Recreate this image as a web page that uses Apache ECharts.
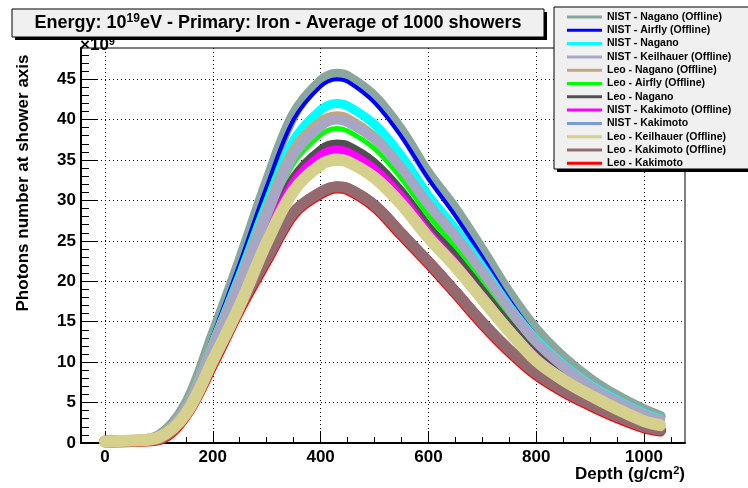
<!DOCTYPE html>
<html>
<head>
<meta charset="utf-8">
<script src="https://cdn.jsdelivr.net/npm/echarts@6/dist/echarts.min.js"></script>
<style>
  html, body { margin: 0; padding: 0; background: #fff; }
  #chart { width: 748px; height: 488px; }
</style>
</head>
<body>
<div id="chart"></div>
<script>
// depth in g/cm2, values in units of 10^9 photons
var depth = [0, 50, 100, 150, 200, 250, 300, 350, 400, 430, 450, 500, 550, 600, 650, 700, 750, 800, 850, 900, 950, 1000, 1030];

var nistNaganoOff    = [0.2, 0.3, 0.9, 4.8, 13.4, 22.5, 32.2, 40.6, 44.7, 45.6, 45.3, 42.8, 38.6, 33.3, 28.9, 23.8, 18.5, 14.0, 10.6, 7.9, 5.8, 4.1, 3.3];
var nistAirflyOff    = [0.2, 0.3, 0.9, 4.7, 13.2, 22.2, 31.7, 40.0, 44.1, 45.0, 44.7, 42.1, 37.9, 32.7, 28.1, 23.0, 17.7, 13.2, 9.8, 7.2, 5.2, 3.6, 2.9];
var nistNagano       = [0.2, 0.3, 0.8, 4.4, 12.3, 20.7, 29.6, 37.4, 41.2, 42.0, 41.7, 39.4, 35.5, 30.6, 26.5, 21.8, 16.9, 12.8, 9.7, 7.2, 5.3, 3.7, 3.0];
var nistKeilhauerOff = [0.2, 0.3, 0.8, 4.2, 11.7, 19.7, 28.2, 35.6, 39.2, 40.0, 39.7, 37.6, 34.0, 29.5, 25.6, 21.2, 16.6, 12.5, 9.5, 7.0, 5.1, 3.5, 2.8];
var leoNaganoOff     = [0.2, 0.3, 0.8, 4.3, 12.0, 20.1, 28.7, 36.2, 39.7, 40.4, 40.1, 37.8, 34.0, 29.3, 25.3, 20.8, 16.2, 12.2, 9.2, 6.9, 5.0, 3.5, 2.8];
var leoAirflyOff     = [0.2, 0.3, 0.8, 4.1, 11.4, 19.2, 27.5, 34.6, 38.1, 38.9, 38.6, 36.4, 32.7, 28.1, 24.2, 19.8, 15.4, 11.6, 8.8, 6.5, 4.7, 3.3, 2.6];
var leoNagano        = [0.2, 0.3, 0.7, 3.9, 10.9, 18.3, 26.2, 33.0, 36.4, 37.1, 36.9, 34.8, 31.3, 26.9, 23.2, 19.0, 14.8, 11.1, 8.4, 6.2, 4.5, 3.1, 2.5];
var nistKakimotoOff  = [0.2, 0.3, 0.7, 3.8, 10.7, 17.9, 25.6, 32.3, 35.6, 36.3, 36.0, 33.9, 30.5, 26.1, 22.3, 18.2, 14.1, 10.6, 8.0, 5.9, 4.3, 3.0, 2.4];
var nistKakimoto     = [0.2, 0.3, 0.7, 3.7, 10.4, 17.4, 24.9, 31.4, 34.6, 35.3, 35.0, 33.0, 29.7, 25.5, 21.9, 17.9, 13.9, 10.4, 7.9, 5.8, 4.2, 3.0, 2.4];
var leoKeilhauerOff  = [0.2, 0.3, 0.7, 3.6, 10.2, 17.0, 24.8, 31.2, 34.4, 35.0, 34.8, 32.8, 29.5, 25.4, 21.8, 17.8, 13.8, 10.2, 7.8, 5.9, 4.2, 2.7, 2.2];
var leoKakimotoOff   = [0.2, 0.25, 0.5, 3.6, 10.0, 16.8, 22.8, 28.5, 31.0, 31.7, 31.5, 29.4, 25.9, 22.4, 18.7, 14.9, 11.5, 8.6, 6.5, 4.8, 3.3, 2.0, 1.6];
var leoKakimoto      = [0.2, 0.25, 0.47, 3.5, 9.85, 16.65, 22.65, 28.4, 30.9, 31.6, 31.4, 29.3, 25.8, 22.3, 18.6, 14.8, 11.4, 8.5, 6.4, 4.7, 3.2, 1.95, 1.55];

var legendNames = ['NIST - Nagano (Offline)', 'NIST - Airfly (Offline)', 'NIST - Nagano', 'NIST - Keilhauer (Offline)',
  'Leo - Nagano (Offline)', 'Leo - Airfly (Offline)', 'Leo - Nagano', 'NIST - Kakimoto (Offline)',
  'NIST - Kakimoto', 'Leo - Keilhauer (Offline)', 'Leo - Kakimoto (Offline)', 'Leo - Kakimoto'];

var xTicks = [0, 200, 400, 600, 800, 1000];
var xMinorTicks = [50, 100, 150, 250, 300, 350, 450, 500, 550, 650, 700, 750, 850, 900, 950, 1050];
var yTicks = [0, 5, 10, 15, 20, 25, 30, 35, 40, 45];
var yMinorTicks = [1, 2, 3, 4, 6, 7, 8, 9, 11, 12, 13, 14, 16, 17, 18, 19, 21, 22, 23, 24, 26, 27, 28, 29,
  31, 32, 33, 34, 36, 37, 38, 39, 41, 42, 43, 44, 46, 47, 48];

var font = "'Liberation Sans', Arial, Helvetica, sans-serif";

// drawn bottom to top
var curves = [
  { name: 'Leo - Kakimoto', data: leoKakimoto, color: '#ff0000', width: 12 },
  { name: 'NIST - Nagano (Offline)', data: nistNaganoOff, color: '#8aa79d', width: 11 },
  { name: 'NIST - Airfly (Offline)', data: nistAirflyOff, color: '#0000ff', width: 4 },
  { name: 'NIST - Nagano', data: nistNagano, color: '#00ffff', width: 9 },
  { name: 'Leo - Nagano (Offline)', data: leoNaganoOff, color: '#c3a586', width: 10 },
  { name: 'Leo - Airfly (Offline)', data: leoAirflyOff, color: '#00ff00', width: 5 },
  { name: 'Leo - Nagano', data: leoNagano, color: '#505050', width: 7 },
  { name: 'NIST - Kakimoto (Offline)', data: nistKakimotoOff, color: '#ff00ff', width: 8 },
  { name: 'NIST - Keilhauer (Offline)', data: nistKeilhauerOff, color: '#a7a7c5', width: 10 },
  { name: 'NIST - Kakimoto', data: nistKakimoto, color: '#7b9bd6', width: 8 },
  { name: 'Leo - Kakimoto (Offline)', data: leoKakimotoOff, color: '#936a70', width: 11 },
  { name: 'Leo - Keilhauer (Offline)', data: leoKeilhauerOff, color: '#d5d08c', width: 12 }
];

var series = curves.map(function (c) {
  return {
    name: c.name,
    type: 'line',
    xAxisIndex: 0,
    yAxisIndex: 0,
    data: depth.map(function (d, i) { return [d, c.data[i]]; }),
    smooth: 0.35,
    showSymbol: false,
    color: c.color,
    lineStyle: { color: c.color, width: c.width, cap: 'round', join: 'round' },
    silent: true,
    animation: false,
    z: 3
  };
});

var myChart = echarts.init(document.getElementById('chart'), null, { renderer: 'canvas' });

myChart.setOption({
  animation: false,
  backgroundColor: '#ffffff',
  grid: { left: 81, top: 48, right: 63, bottom: 45, show: true, borderColor: '#000', borderWidth: 1 },
  xAxis: [
    {
      type: 'value', min: -44.5, max: 1076,
      axisLine: { show: true, onZero: false, lineStyle: { color: '#000', width: 2 } },
      axisTick: { show: true, inside: true, length: 12, customValues: xTicks, lineStyle: { color: '#000', width: 1 } },
      axisLabel: {
        customValues: xTicks, margin: 6, color: '#000', fontSize: 17, fontWeight: 'bold', fontFamily: font,
        formatter: function (v) { return String(v); }
      },
      splitLine: { show: true, lineStyle: { color: '#000', width: 1, type: [1, 3] } }
    },
    {
      type: 'value', min: -44.5, max: 1076, position: 'bottom',
      axisLine: { show: false, onZero: false },
      axisTick: { show: true, inside: true, length: 6, customValues: xMinorTicks, lineStyle: { color: '#000', width: 1 } },
      axisLabel: { show: false },
      splitLine: { show: false }
    }
  ],
  yAxis: [
    {
      type: 'value', min: 0, max: 48.85,
      axisLine: { show: true, onZero: false, lineStyle: { color: '#000', width: 2 } },
      axisTick: { show: true, inside: true, length: 16, customValues: yTicks, lineStyle: { color: '#000', width: 1 } },
      axisLabel: {
        customValues: yTicks, margin: 5, color: '#000', fontSize: 17, fontWeight: 'bold', fontFamily: font,
        formatter: function (v) { return String(v); }
      },
      splitLine: { show: true, lineStyle: { color: '#000', width: 1, type: [1, 3] } }
    },
    {
      type: 'value', min: 0, max: 48.85, position: 'left',
      axisLine: { show: false, onZero: false },
      axisTick: { show: true, inside: true, length: 8, customValues: yMinorTicks, lineStyle: { color: '#000', width: 1 } },
      axisLabel: { show: false },
      splitLine: { show: false }
    }
  ],
  legend: {
    data: legendNames,
    orient: 'vertical',
    left: 562,
    top: 6,
    icon: 'rect',
    itemWidth: 35,
    itemHeight: 3,
    itemGap: 1.3,
    selectedMode: false,
    z: 20,
    textStyle: { color: '#000', fontSize: 10.5, fontWeight: 'bold', fontFamily: font, lineHeight: 12 }
  },
  graphic: [
    // title box
    { type: 'rect', z: 10, shape: { x: 15, y: 12, width: 532, height: 28 }, style: { fill: '#000' } },
    { type: 'rect', z: 11, shape: { x: 12, y: 9, width: 532, height: 28 }, style: { fill: '#f0f0f0', stroke: '#000', lineWidth: 1 } },
    {
      type: 'text', z: 12, x: 278, y: 23,
      style: {
        text: 'Energy: 10{s|19}eV - Primary: Iron - Average of 1000 showers',
        fill: '#000', fontSize: 18, fontWeight: 'bold', fontFamily: font,
        align: 'center', verticalAlign: 'middle',
        rich: { s: { fontSize: 12, fontWeight: 'bold', fontFamily: font, fill: '#000', padding: [0, 0, 8, 0] } }
      }
    },
    // legend box
    { type: 'rect', z: 10, shape: { x: 557, y: 10, width: 200, height: 162 }, style: { fill: '#000' } },
    { type: 'rect', z: 11, shape: { x: 554, y: 7, width: 200, height: 162 }, style: { fill: '#f0f0f0', stroke: '#000', lineWidth: 1 } },
    // exponent
    {
      type: 'text', z: 12, x: 80, y: 55,
      style: {
        text: '×10{s|9}', fill: '#000', fontSize: 17, fontWeight: 'bold', fontFamily: font,
        align: 'left', verticalAlign: 'bottom',
        rich: { s: { fontSize: 11, fontWeight: 'bold', fontFamily: font, fill: '#000', padding: [0, 0, 8, 0] } }
      }
    },
    // y title
    {
      type: 'text', z: 12, x: 23, y: 183, rotation: Math.PI / 2,
      style: {
        text: 'Photons number at shower axis', fill: '#000', fontSize: 17, fontWeight: 'bold', fontFamily: font,
        align: 'center', verticalAlign: 'middle'
      }
    },
    // x title
    {
      type: 'text', z: 12, x: 685, y: 484,
      style: {
        text: 'Depth (g/cm{s|2})', fill: '#000', fontSize: 17, fontWeight: 'bold', fontFamily: font,
        align: 'right', verticalAlign: 'bottom',
        rich: { s: { fontSize: 11, fontWeight: 'bold', fontFamily: font, fill: '#000', padding: [0, 0, 8, 0] } }
      }
    }
  ],
  series: series
});
</script>
</body>
</html>
